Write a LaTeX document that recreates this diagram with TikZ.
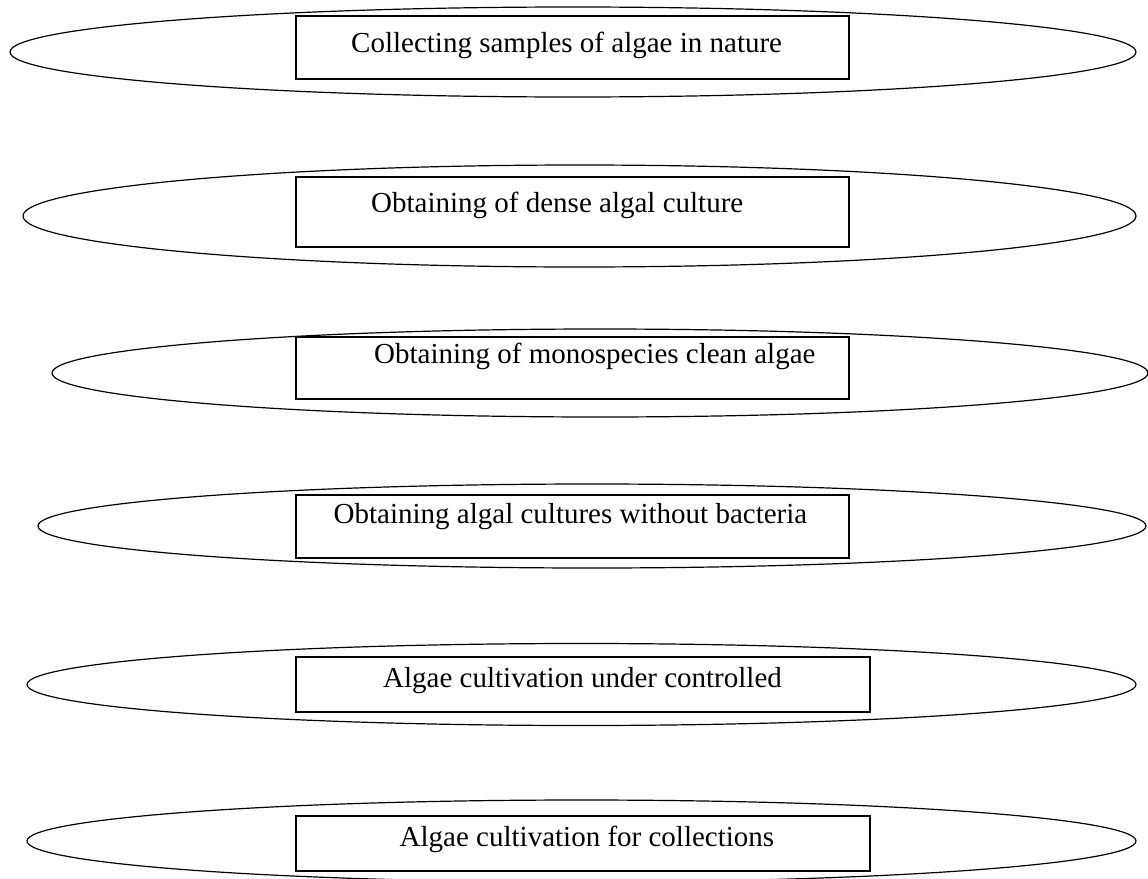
\documentclass[tikz,border=0pt]{standalone}
\usepackage{fontspec}
\setmainfont{Liberation Serif}
\usetikzlibrary{shapes.geometric}
\tikzset{
  oval/.style={draw=black, line width=1.2pt, ellipse, inner sep=0pt},
  stagebox/.style={draw=black, line width=1.4pt, rectangle, inner sep=0pt, fill=white},
  stagetext/.style={anchor=base west, inner sep=0pt, font=\fontsize{29}{34}\selectfont}
}
\begin{document}
\begin{tikzpicture}[x=1pt,y=-1pt]
\useasboundingbox (0,0) rectangle (1148,878);
\clip (0,0) rectangle (1148,878);
\fill[white] (0,0) rectangle (1148,878);
% ellipses
\node[oval, minimum width=1126pt, minimum height=90pt] (e1) at (573,52) {};
\node[oval, minimum width=1113pt, minimum height=102pt] (e2) at (579.5,216) {};
\node[oval, minimum width=1096pt, minimum height=88pt] (e3) at (600,373) {};
\node[oval, minimum width=1108pt, minimum height=84pt] (e4) at (592,526) {};
\node[oval, minimum width=1109pt, minimum height=82pt] (e5) at (581.5,684.5) {};
\node[oval, minimum width=1109pt, minimum height=82pt] (e6) at (581.5,841) {};
% boxes
\node[stagebox, minimum width=553pt, minimum height=63pt] (r1) at (572.5,47.5) {};
\node[stagebox, minimum width=553pt, minimum height=70pt] (r2) at (572.5,212) {};
\node[stagebox, minimum width=553pt, minimum height=62pt] (r3) at (572.5,368) {};
\node[stagebox, minimum width=553pt, minimum height=63pt] (r4) at (572.5,526.5) {};
\node[stagebox, minimum width=574pt, minimum height=55pt] (r5) at (583,684.5) {};
\node[stagebox, minimum width=574pt, minimum height=55pt] (r6) at (583,843.5) {};
% texts
\node[stagetext] (t1) at (351,52) {Collecting samples of algae in nature};
\node[stagetext] (t2) at (371,212) {Obtaining of dense algal culture};
\node[stagetext] (t3) at (374,363) {Obtaining of monospecies clean algae};
\node[stagetext] (t4) at (333.5,523) {Obtaining algal cultures without bacteria};
\node[stagetext] (t5) at (383,687) {Algae cultivation under controlled};
\node[stagetext] (t6) at (399.5,846) {Algae cultivation for collections};
\end{tikzpicture}
\end{document}
